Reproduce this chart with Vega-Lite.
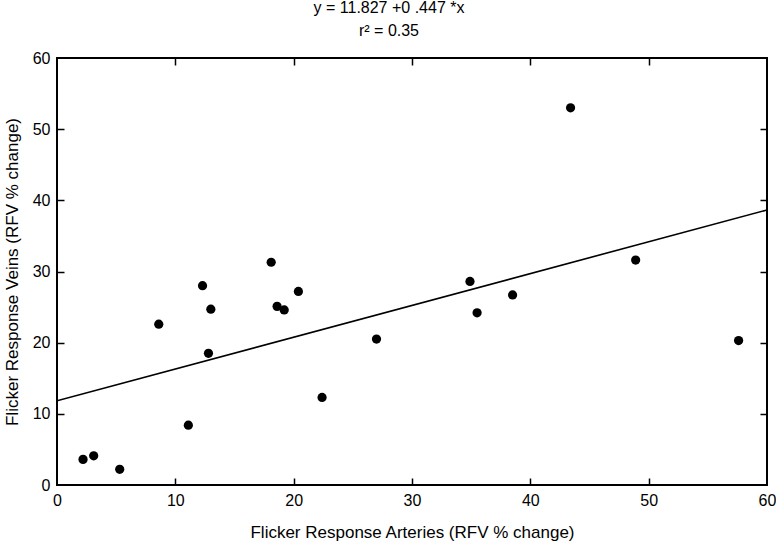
{
  "$schema": "https://vega.github.io/schema/vega-lite/v6.json",
  "width": 710,
  "height": 427,
  "autosize": "none",
  "padding": {"left": 57, "top": 58, "right": 9, "bottom": 61},
  "background": "white",
  "config": {
    "font": "Liberation Sans",
    "view": {"stroke": "black", "strokeWidth": 2},
    "axis": {
      "grid": false,
      "domain": false,
      "ticks": true,
      "zindex": 1,
      "tickColor": "black",
      "tickWidth": 1.5,
      "tickSize": -7,
      "labelFlush": false,
      "labelFont": "Liberation Sans",
      "labelFontSize": 16,
      "labelColor": "black",
      "titleFont": "Liberation Sans",
      "titleFontSize": 17,
      "titleFontWeight": "normal",
      "titleColor": "black"
    }
  },
  "title": {
    "text": ["y = 11.827 +0 .447 *x", "r² = 0.35"],
    "font": "Liberation Sans",
    "fontSize": 16,
    "fontWeight": "normal",
    "color": "black",
    "lineHeight": 23,
    "anchor": "middle",
    "dx": -23,
    "offset": 11
  },
  "datasets": {
    "pts": [
      {"arteries": 2.2, "veins": 3.6},
      {"arteries": 3.1, "veins": 4.1},
      {"arteries": 5.3, "veins": 2.2},
      {"arteries": 8.6, "veins": 22.6},
      {"arteries": 11.1, "veins": 8.4},
      {"arteries": 12.3, "veins": 28.0},
      {"arteries": 12.8, "veins": 18.5},
      {"arteries": 13.0, "veins": 24.7},
      {"arteries": 18.1, "veins": 31.3},
      {"arteries": 18.6, "veins": 25.1},
      {"arteries": 19.2, "veins": 24.6},
      {"arteries": 20.4, "veins": 27.2},
      {"arteries": 22.4, "veins": 12.3},
      {"arteries": 27.0, "veins": 20.5},
      {"arteries": 34.9, "veins": 28.6},
      {"arteries": 35.5, "veins": 24.2},
      {"arteries": 38.5, "veins": 26.7},
      {"arteries": 43.4, "veins": 53.0},
      {"arteries": 48.9, "veins": 31.6},
      {"arteries": 57.6, "veins": 20.3}
    ],
    "fit": [
      {"arteries": 0, "veins": 11.827},
      {"arteries": 60, "veins": 38.647}
    ]
  },
  "layer": [
    {
      "data": {"name": "fit"},
      "mark": {"type": "line", "color": "black", "strokeWidth": 1.6, "clip": true},
      "encoding": {
        "x": {"field": "arteries", "type": "quantitative", "scale": {"domain": [0, 60], "nice": false, "zero": false},
              "axis": {"orient": "top", "values": [10, 20, 30, 40, 50], "labels": false, "title": null}},
        "y": {"field": "veins", "type": "quantitative", "scale": {"domain": [0, 60], "nice": false, "zero": false},
              "axis": {"orient": "right", "values": [10, 20, 30, 40, 50], "labels": false, "title": null}}
      }
    },
    {
      "data": {"name": "pts"},
      "mark": {"type": "point", "filled": true, "color": "black", "opacity": 1, "size": 85},
      "encoding": {
        "x": {"field": "arteries", "type": "quantitative", "scale": {"domain": [0, 60], "nice": false, "zero": false},
              "axis": {"orient": "bottom", "values": [0, 10, 20, 30, 40, 50, 60], "ticks": false, "labelPadding": 7, "titlePadding": 16, "title": "Flicker Response Arteries (RFV % change)"}},
        "y": {"field": "veins", "type": "quantitative", "scale": {"domain": [0, 60], "nice": false, "zero": false},
              "axis": {"orient": "left", "values": [0, 10, 20, 30, 40, 50, 60], "ticks": false, "labelPadding": 7, "titlePadding": 11, "title": "Flicker Response Veins (RFV % change)"}}
      }
    },
    {
      "data": {"name": "fit"},
      "mark": {"type": "line", "color": "black", "strokeOpacity": 0, "clip": true},
      "encoding": {
        "x": {"field": "arteries", "type": "quantitative", "scale": {"domain": [0, 60], "nice": false, "zero": false},
              "axis": {"orient": "bottom", "values": [10, 20, 30, 40, 50], "labels": false, "title": null, "offset": 0}},
        "y": {"field": "veins", "type": "quantitative", "scale": {"domain": [0, 60], "nice": false, "zero": false},
              "axis": {"orient": "left", "values": [10, 20, 30, 40, 50], "labels": false, "title": null, "offset": 0}}
      }
    }
  ],
  "resolve": {"axis": {"x": "independent", "y": "independent"}}
}
